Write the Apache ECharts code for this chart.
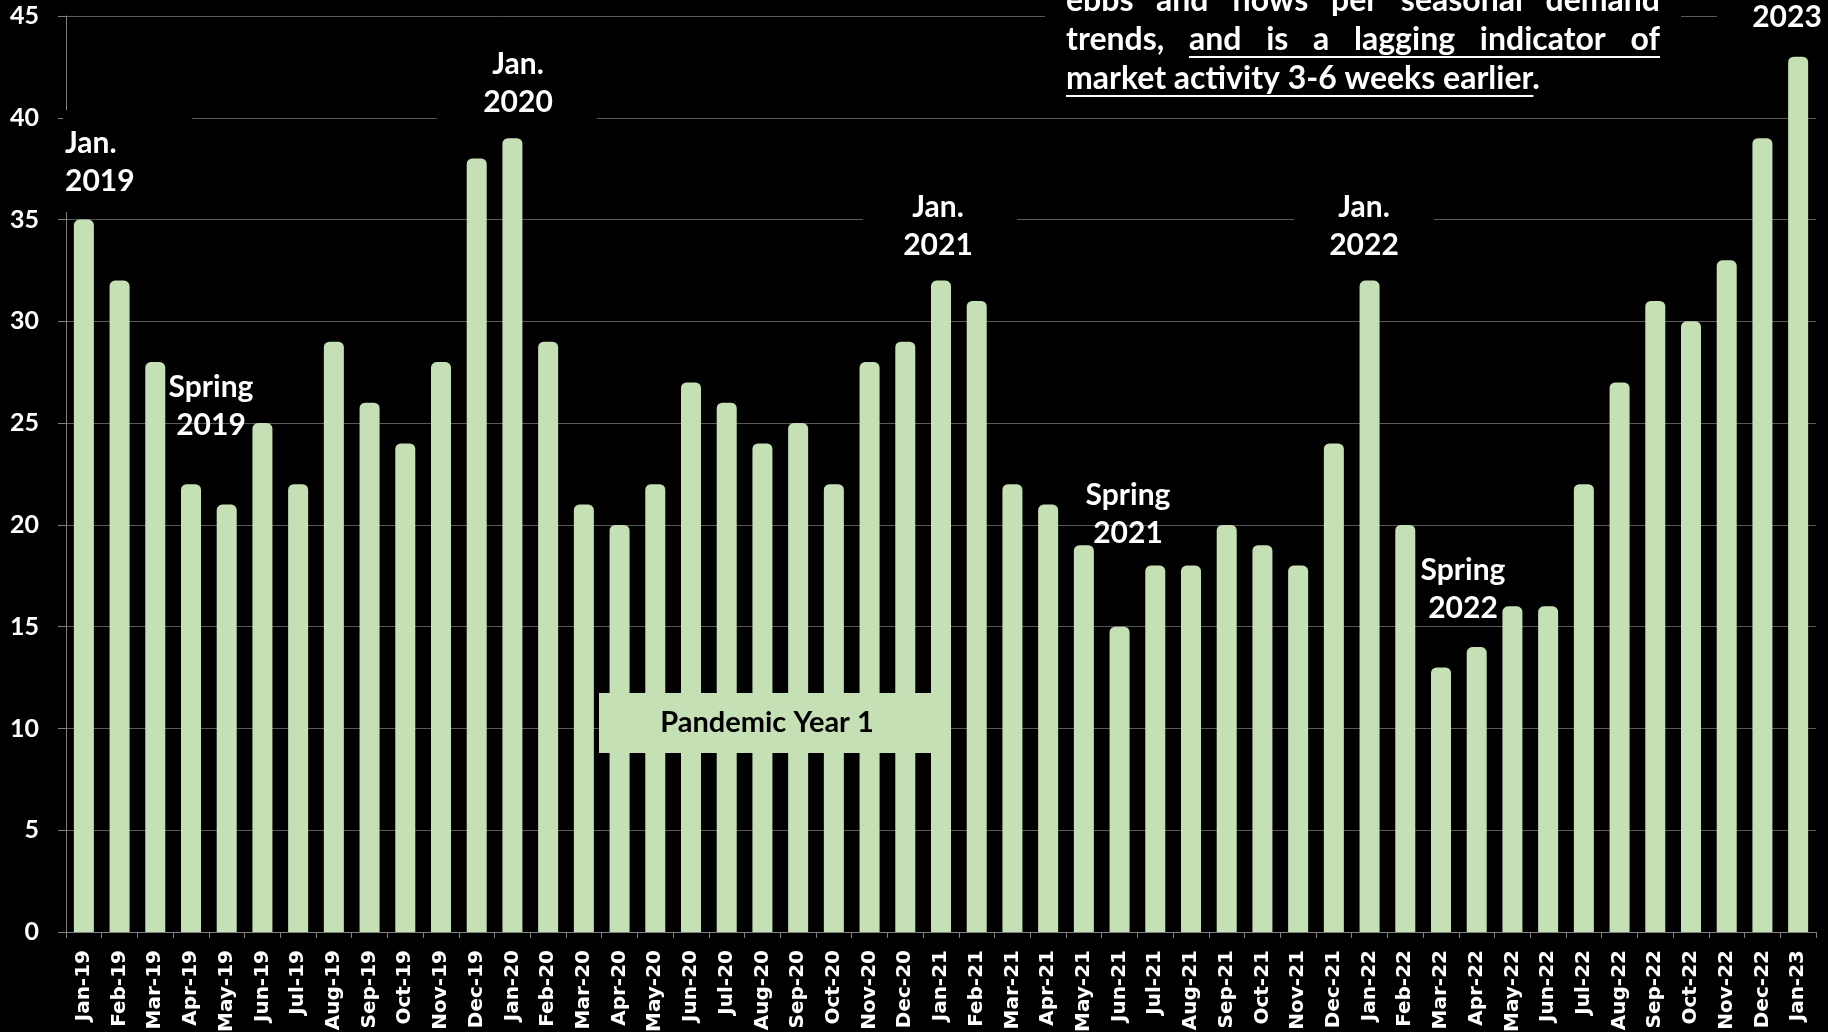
<!DOCTYPE html>
<html>
<head>
<meta charset="utf-8">
<script src="https://cdn.jsdelivr.net/npm/echarts@6/dist/echarts.min.js"></script>
<style>
  html, body { margin: 0; padding: 0; background: #000; }
  #chart { width: 1828px; height: 1032px; }
</style>
</head>
<body>
<div id="chart"></div>
<script>
var months = ['Jan-19', 'Feb-19', 'Mar-19', 'Apr-19', 'May-19', 'Jun-19', 'Jul-19', 'Aug-19', 'Sep-19', 'Oct-19', 'Nov-19', 'Dec-19',
  'Jan-20', 'Feb-20', 'Mar-20', 'Apr-20', 'May-20', 'Jun-20', 'Jul-20', 'Aug-20', 'Sep-20', 'Oct-20', 'Nov-20', 'Dec-20',
  'Jan-21', 'Feb-21', 'Mar-21', 'Apr-21', 'May-21', 'Jun-21', 'Jul-21', 'Aug-21', 'Sep-21', 'Oct-21', 'Nov-21', 'Dec-21',
  'Jan-22', 'Feb-22', 'Mar-22', 'Apr-22', 'May-22', 'Jun-22', 'Jul-22', 'Aug-22', 'Sep-22', 'Oct-22', 'Nov-22', 'Dec-22',
  'Jan-23'];
var counts = [35, 32, 28, 22, 21, 25, 22, 29, 26, 24, 28, 38,
  39, 29, 21, 20, 22, 27, 26, 24, 25, 22, 28, 29,
  32, 31, 22, 21, 19, 15, 18, 18, 20, 19, 18, 24,
  32, 20, 13, 14, 16, 16, 22, 27, 31, 30, 33, 39,
  43];
var noteLines = ['ebbs and flows per seasonal demand', 'trends, and is a lagging indicator of', 'market activity 3-6 weeks earlier.'];
var pandemicLabel = 'Pandemic Year 1';

var labelFont = 'bold 30px Lato, sans-serif';
var noteFont = 'bold 32px Lato, sans-serif';

// measure words so the note can be justified like the original text box
var ctx = document.createElement('canvas').getContext('2d');
ctx.font = noteFont;
function w(s) { return ctx.measureText(s).width; }

function noteElements() {
  var left = 1066, right = 1660, lineY = [1, 40, 79];
  var els = [];
  noteLines.forEach(function (line, i) {
    var words = line.split(' ');
    var widths = words.map(w);
    var sum = widths.reduce(function (a, b) { return a + b; }, 0);
    var gap = i < 2 ? (right - left - sum) / (words.length - 1) : w(' ');
    var x = left;
    var starts = [];
    words.forEach(function (word, k) {
      starts.push(x);
      els.push({ type: 'text', z: 101, style: { text: word, x: x, y: lineY[i], fill: '#fff', font: noteFont, textVerticalAlign: 'middle' } });
      x += widths[k] + gap;
    });
    if (i === 1) {
      els.push({ type: 'line', z: 101, shape: { x1: starts[1], y1: lineY[i] + 17, x2: right, y2: lineY[i] + 17 }, style: { stroke: '#fff', lineWidth: 2 } });
    }
    if (i === 2) {
      var endX = starts[words.length - 1] + w('earlier');
      els.push({ type: 'line', z: 101, shape: { x1: left, y1: lineY[i] + 17, x2: endX, y2: lineY[i] + 17 }, style: { stroke: '#fff', lineWidth: 2 } });
    }
  });
  return els;
}

function box(x, y, bw, bh) {
  return { type: 'rect', z: 100, shape: { x: x, y: y, width: bw, height: bh }, style: { fill: '#000' } };
}
function label(text, x, y, align) {
  return { type: 'text', z: 101, style: { text: text, x: x, y: y, fill: '#fff', font: labelFont, lineHeight: 38, textAlign: align || 'center', textVerticalAlign: 'middle' } };
}

var graphics = [
  box(63, 110, 129, 102), label('Jan.\n2019', 65, 162, 'left'),
  box(437, 40, 160, 82), label('Jan.\n2020', 518, 83),
  box(863, 185, 154, 80), label('Jan.\n2021', 938, 226),
  box(1294, 185, 140, 80), label('Jan.\n2022', 1364, 226),
  box(1717, 0, 111, 40), label('Jan.\n2023', 1787, -2),
  label('Spring\n2019', 211, 406),
  label('Spring\n2021', 1128, 514),
  label('Spring\n2022', 1463, 589),
  box(1045, 0, 636, 100),
  { type: 'rect', z: 100, shape: { x: 599, y: 693, width: 341, height: 60 }, style: { fill: '#C5E0B4' } },
  { type: 'text', z: 101, style: { text: pandemicLabel, x: 767, y: 723, fill: '#000', font: 'bold 29px Lato, sans-serif', textAlign: 'center', textVerticalAlign: 'middle' } }
].concat(noteElements());

var chart = echarts.init(document.getElementById('chart'));
var option = {
  backgroundColor: '#000',
  animation: false,
  grid: { left: 66, right: 12, top: 16, bottom: 100, outerBoundsMode: 'none' },
  xAxis: {
    type: 'category',
    data: months,
    axisLine: { lineStyle: { color: '#808080', width: 1 } },
    axisTick: { show: true, length: 6, lineStyle: { color: '#808080' } },
    axisLabel: { interval: 0, rotate: 90, margin: 18, color: '#fff', fontFamily: 'DejaVu Sans', fontWeight: 'bold', fontSize: 20 }
  },
  yAxis: {
    type: 'value',
    min: 0,
    max: 45,
    interval: 5,
    axisLine: { show: true, lineStyle: { color: '#808080', width: 1 } },
    axisTick: { show: true, length: 8, lineStyle: { color: '#808080' } },
    axisLabel: { color: '#fff', fontFamily: 'Lato', fontWeight: 'bold', fontSize: 25, margin: 27 },
    splitLine: { lineStyle: { color: '#595959', width: 1 } }
  },
  series: [{
    type: 'bar',
    data: counts,
    barWidth: 20,
    itemStyle: { color: '#C5E0B4', borderColor: '#C5E0B4', borderWidth: 3, borderRadius: [4, 4, 0, 0] }
  }],
  graphic: graphics
};
chart.setOption(option);
</script>
</body>
</html>
